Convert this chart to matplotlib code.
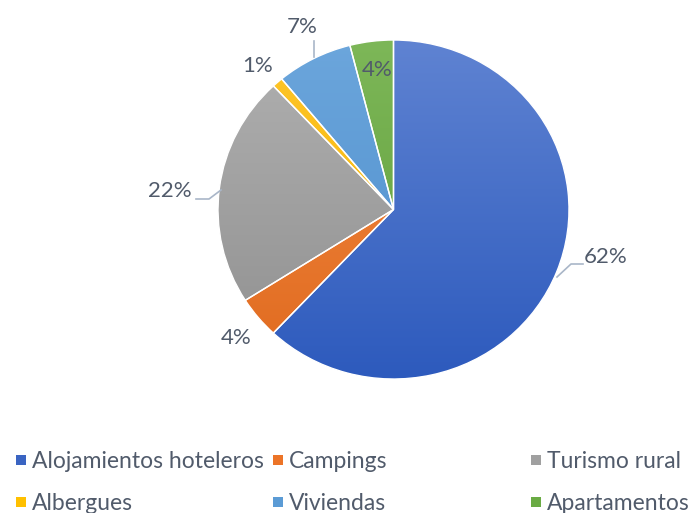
import numpy as np
import matplotlib.pyplot as plt
import matplotlib.colors as mcolors
from matplotlib.patches import Rectangle

categories = ["Alojamientos hoteleros", "Campings", "Turismo rural",
              "Albergues", "Viviendas", "Apartamentos"]
values = [62, 4, 22, 1, 7, 4]
labels = ["62%", "4%", "22%", "1%", "7%", "4%"]

# light (top) / dark (bottom) shades for the Excel-like gradient
top_colors = ["#5F83D2", "#F28A45", "#B0B0B0", "#FFC62A", "#6CA6DC", "#7DB758"]
bottom_colors = ["#2D5ABD", "#E06A1E", "#8F8F8F", "#F0B000", "#4A8CCB", "#5E9C38"]
legend_colors = ["#3A64C2", "#EC7428", "#A0A0A0", "#FFC000", "#5B9BD5", "#6AAB44"]

W, H = 699, 513
text_color = "#515B6B"
line_color = "#A9B6C8"
font = "Lato"


def py(y):
    # picture rows run top -> bottom
    return H - y


fig = plt.figure(figsize=(W / 100, H / 100), dpi=100)

# pie axes: the original picture is slightly stretched sideways
cx, cy = 393.5, 209.5
rx, ry = 175.5, 169.5
ax = fig.add_axes([0, 0, 1, 1])
wedges, _ = ax.pie(values, startangle=90, counterclock=False,
                   colors=bottom_colors,
                   wedgeprops=dict(edgecolor="white", linewidth=1.0))

# vertical gradient inside each wedge
grad = np.linspace(0, 1, 256).reshape(-1, 1)
for w, c_top, c_bot in zip(wedges, top_colors, bottom_colors):
    cmap = mcolors.LinearSegmentedColormap.from_list("g", [c_top, c_bot])
    im = ax.imshow(grad, cmap=cmap, aspect="auto", origin="upper",
                   extent=(-1, 1, -1, 1), zorder=w.get_zorder())
    im.set_clip_path(w)
    w.set_facecolor("none")
    w.set_zorder(w.get_zorder() + 0.5)

ax.set_aspect("auto")
ax.set_xlim(-cx / rx, (W - cx) / rx)
ax.set_ylim(-(H - cy) / ry, cy / ry)
ax.axis("off")

# overlay axes in pixel coordinates for labels and legend
ov = fig.add_axes([0, 0, 1, 1])
ov.set_xlim(0, W)
ov.set_ylim(0, H)
ov.axis("off")

# data labels (pixel positions)
label_pos = [(606, 257), (236, 338), (170, 191), (258, 66), (302, 27), (377, 70)]
for txt, (x, y) in zip(labels, label_pos):
    ov.text(x, py(y), txt, ha="center", va="center", fontsize=16,
            color=text_color, family=font, zorder=5)

# leader lines
leaders = [
    [(557, 277), (571, 264), (583, 264)],
    [(196, 199), (209, 199), (221, 190)],
    [(314, 41), (314, 57)],
]
for pts in leaders:
    xs = [p[0] for p in pts]
    ys = [py(p[1]) for p in pts]
    ov.plot(xs, ys, color=line_color, lw=1.2, zorder=4)

# legend, laid out like the Excel one
legend_xy = [(16, 460), (273, 460), (531, 460), (16, 502), (273, 502), (531, 502)]
for name, col, (x, y) in zip(categories, legend_colors, legend_xy):
    ov.add_patch(Rectangle((x, py(y) - 5), 10, 10, color=col, lw=0))
    ov.text(x + 16, py(y) - 1, name, ha="left", va="center", fontsize=16.5,
            color=text_color, family=font)

fig.savefig("out.png", dpi=100)
